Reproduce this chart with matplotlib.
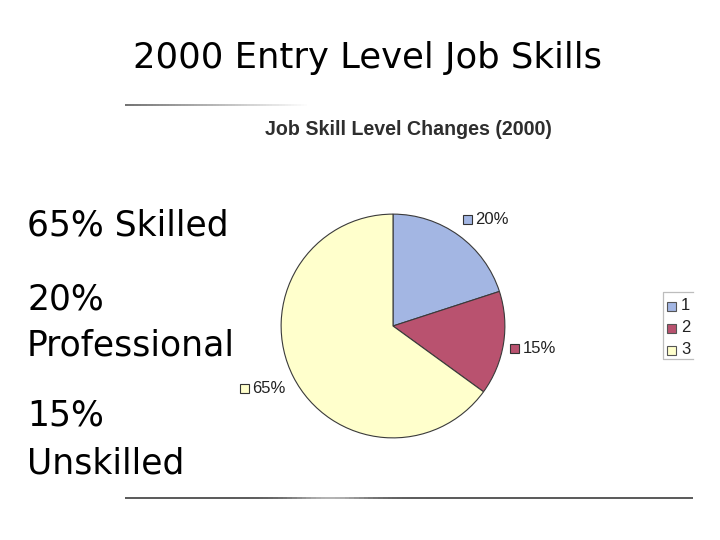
import matplotlib
matplotlib.use("Agg")
import matplotlib.pyplot as plt
from matplotlib.patches import Rectangle
from matplotlib.collections import LineCollection
import numpy as np

# ---- data ----
slide_title = "2000 Entry Level Job Skills"
chart_title = "Job Skill Level Changes (2000)"
bullets = ["65% Skilled", "20%", "Professional", "15%", "Unskilled"]
legend_labels = ["1", "2", "3"]
shares = [20, 15, 65]
share_labels = ["20%", "15%", "65%"]
colors = ["#a3b6e3", "#b9526f", "#ffffcc"]

W, H = 720, 540
fig = plt.figure(figsize=(W / 100, H / 100), dpi=100)
fig.patch.set_facecolor("white")

# overlay axes in pixel coordinates (y downward)
ov = fig.add_axes([0, 0, 1, 1])
ov.set_xlim(0, W)
ov.set_ylim(H, 0)
ov.axis("off")

slide_font = "DejaVu Sans"
chart_font = "Liberation Sans"

r = fig.canvas.get_renderer()


def fit(t, target_w):
    w = t.get_window_extent(r).width
    t.set_fontsize(t.get_fontsize() * target_w / w)


# slide title
t = ov.text(133, 68, slide_title, fontsize=24, family=slide_font, ha="left", va="baseline", color="black")
fit(t, 469)

# bullets
bullet_y = [236, 310, 355, 425, 473]
bt = [ov.text(27, y, s, fontsize=24, family=slide_font, ha="left", va="baseline", color="black")
      for s, y in zip(bullets, bullet_y)]
w_prof = bt[2].get_window_extent(r).width
fs = 24 * 208 / w_prof
for t in bt:
    t.set_fontsize(fs)

# lines
xs = np.linspace(125, 310, 60)
segs = [[(xs[i], 105), (xs[i + 1], 105)] for i in range(len(xs) - 1)]
fade = np.linspace(0.35, 1.0, len(segs))
ov.add_collection(LineCollection(segs, colors=[(f, f, f) for f in fade], linewidths=1.2))

xs2 = np.linspace(125, 693, 120)
segs2 = [[(xs2[i], 498), (xs2[i + 1], 498)] for i in range(len(xs2) - 1)]
mid = (xs2[:-1] + xs2[1:]) / 2
g = 0.35 + 0.35 * np.exp(-((mid - 330) / 40) ** 2)
ov.add_collection(LineCollection(segs2, colors=[(v, v, v) for v in g], linewidths=1.4))

# chart title
t = ov.text(265, 135, chart_title, fontsize=13, family=chart_font, weight="bold",
            ha="left", va="baseline", color="#2e2e2e")
fit(t, 287)

# pie
cx, cy, rad = 393, 326, 113
pa = fig.add_axes([(cx - rad) / W, (H - cy - rad) / H, 2 * rad / W, 2 * rad / H])
pa.pie(shares, colors=colors, startangle=90, counterclock=False, radius=1,
       wedgeprops=dict(edgecolor="#3a3a3a", linewidth=0.8))
pa.set_xlim(-1.01, 1.01)
pa.set_ylim(-1.01, 1.01)
pa.axis("off")

# data labels (square + text)
label_pos = [(463, 224), (510, 353), (240, 393)]
for (x, y), lab, c in zip(label_pos, share_labels, colors):
    ov.add_patch(Rectangle((x, y - 9.5), 9, 9, facecolor=c, edgecolor="#333333", linewidth=0.8))
    ov.text(x + 12.5, y, lab, fontsize=12, family=chart_font, ha="left", va="baseline", color="#222222")

# legend (frame cut off at the right edge of the scanned chart)
lx0, lx1, ly0, ly1 = 663, 693, 292, 359
ov.plot([lx1, lx0, lx0, lx1], [ly0, ly0, ly1, ly1], color="#bdbdbd", linewidth=0.9)
for i, (lab, c) in enumerate(zip(legend_labels, colors)):
    yc = 306 + 22 * i
    ov.add_patch(Rectangle((667, yc - 4.5), 9, 9, facecolor=c, edgecolor="#555555", linewidth=0.8))
    ov.text(681, yc, lab, fontsize=12, family=chart_font, ha="left", va="center", color="#222222")

fig.savefig("out.png", dpi=100, facecolor="white")
